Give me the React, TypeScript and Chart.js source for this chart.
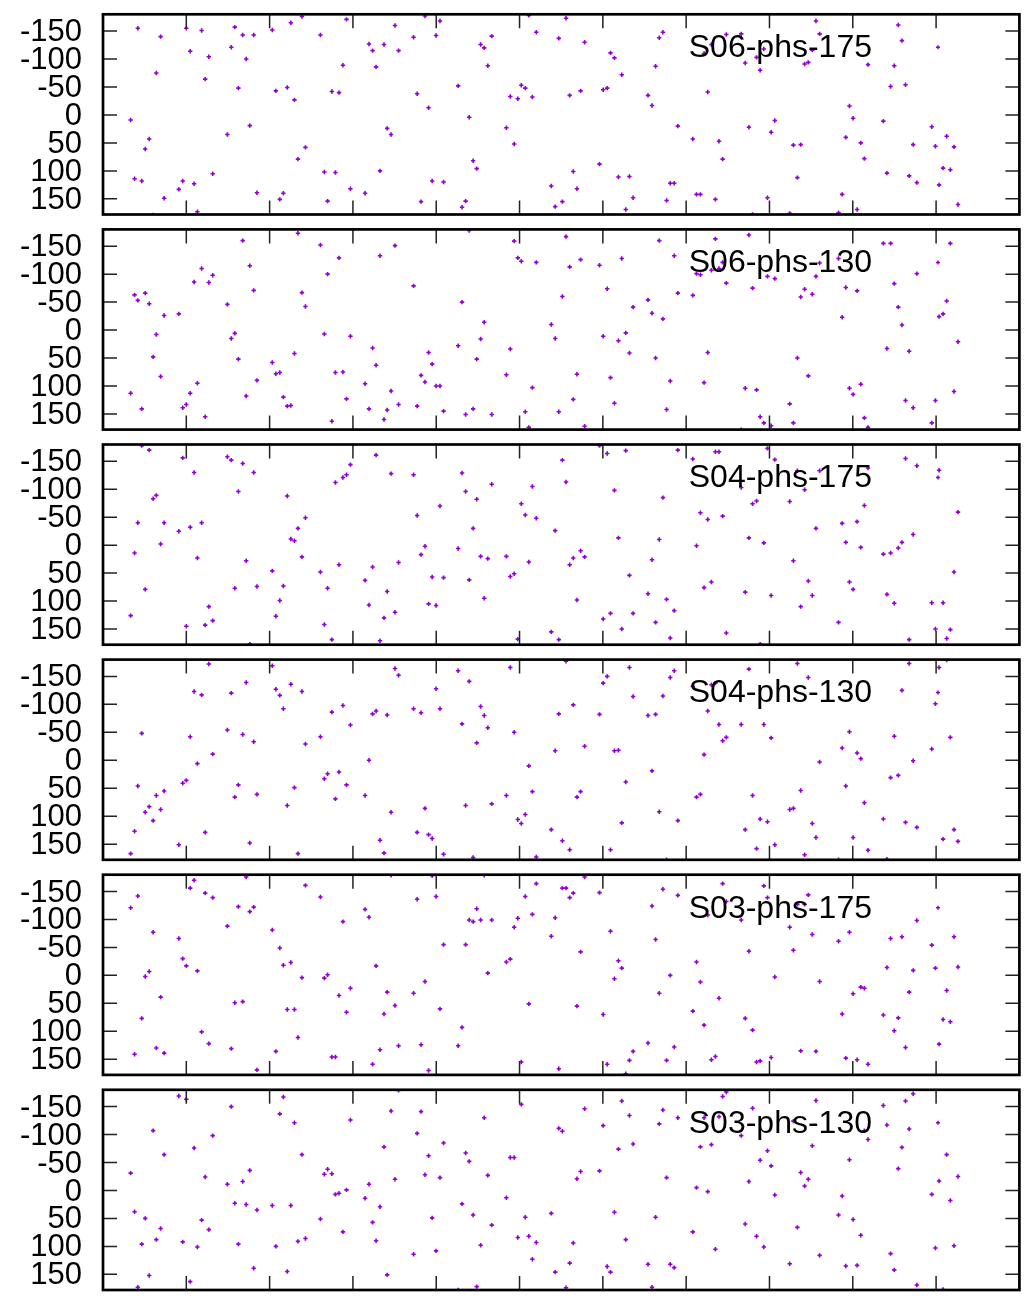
import React, { useEffect, useRef } from "react";
import { Chart, registerables } from "chart.js";

Chart.register(...registerables);

// shared sample times (x values)
const times: number[] = [
  3.32, 3.79, 4.18, 4.65, 5.07, 5.55, 6.02, 6.40, 6.92, 7.34,
  9.10, 9.57, 10.00, 10.47, 10.94, 11.33, 11.84, 12.27, 12.70, 13.17,
  14.93, 15.40, 15.82, 16.25, 16.77, 17.19, 17.62, 18.09, 18.48,
  20.32, 20.75, 21.22, 21.65, 22.12, 22.55, 22.98, 23.40, 23.88, 24.30,
  26.10, 26.57, 26.96, 27.47, 27.90, 28.33, 28.80, 29.23, 29.70,
  31.46, 31.93, 32.36, 32.78, 33.25, 33.73, 34.11, 34.58, 35.05, 35.48,
  37.28, 37.71, 38.18, 38.65, 39.08, 39.51, 39.98, 40.45, 40.88,
  42.63, 43.10, 43.53, 43.96, 44.43, 44.86, 45.33, 45.76, 46.19, 46.66,
  48.42, 48.89, 49.36, 49.79, 50.21, 50.69, 51.11, 51.54, 52.01,
  53.81, 54.28, 54.71,
  55.14, 55.58, 56.02, 56.45, 56.89, 57.33, 57.81,
  59.60, 60.04, 60.52, 60.92, 61.39, 61.87, 62.27, 62.75, 63.19, 63.63,
  65.42, 65.90, 66.33, 66.77, 67.21, 67.65, 68.09, 68.57, 69.00,
  70.80, 71.24, 71.71, 72.15, 72.59, 73.03, 73.51, 73.94, 74.38, 74.82,
  76.61, 77.09, 77.53, 77.97, 78.45, 78.88, 79.32, 79.76, 80.20, 80.64,
  82.43, 82.87, 83.35, 83.75, 84.22, 84.66, 85.14, 85.58, 86.02,
  88.29, 88.73, 89.16, 89.60, 90.04, 90.52, 90.96, 91.39, 91.83,
  93.67, 94.10, 94.54, 94.98, 95.46, 95.90, 96.33, 96.77, 97.25, 97.69,
  99.48, 99.92, 100.36, 100.84, 101.27, 101.71, 102.15, 102.63,
];

const s06phs175: (number | null)[] = [
  9, 114, -155, 118, 61, 43, 179, -75, -140, 149,
  133, 118, -155, -114, 123, 173, -151, -64, -104, 105,
  35, -121, -157, -48, -143, -100, 19, -143, 139,
  -152, -43, 151, 140, -49, -165, -27, 79, -176, 58,
  -143, 102, 154, -42, 103, -40, -89, -171, 132,
  140, -127, -115, -86, 100, -126, 24, 35, -160, -115,
  -139, -38, 155, -177, -13, 118, -142, -168, 120,
  -52, 165, 154, 4, 82, 96, -126, -120, -88, -141,
  23, -33, 52, -29, -53, -48, -178, -32, -148,
  127, 164, -137,
  155, -173, -35, 101, 132, -43, -130,
  88, -45, -48, -111, -102, 111, -72, 169, 110, 148,
  -35, -17, -87, -138, -148, 153, 122, 122, 20,
  43, 142, 142, -110, -41, -126, 151, 47, 79, -144,
  -145, -93, 22, 178, -103, -80, -118, 148, 31, 10,
  176, 54, 112, 53, -91, -94, -116, -168, -145,
  175, 142, 40, -16, 6, 169, 50, 78, -90,
  11, 104, -51, -88, -161, -133, -54, 109, 53, 121,
  21, 56, 125, 95, 38, 98, 57, 160,
];

const s06phs130: (number | null)[] = [
  113, -63, -53, 141, -66, -47, 48, 8, 83, -26,
  -29, 139, 133, 113, -86, 95, -110, 155, -85, -98,
  -46, 15, 6, 52, -160, 118, -115, -71, 90,
  58, 78, 76, 120, 136, 135, 42, -173, -67, -42,
  -152, 7, -100, 163, 76, -129, 75, 123, 11,
  96, 141, 32, 63, -133, 160, 143, 109, -151, 133,
  -79, 136, 81, 93, 40, 61, 100, 100, 145,
  28, -50, 151, -178, 141, 52, 16, -14, null, 151,
  80, 34, -159, -129, -123, 146, 174, 103, -121,
  -10, 15, 146,
  -60, -167, -113, 124, 79, -126, 172,
  -116, 11, -74, 85, 131, 19, -128, 5, 41, -41,
  -54, -30, 50, -160, -20, 142, 91, -133, -66,
  -62, -101, -99, 94, 40, -107, -163, -110, -121, -84,
  178, 104, -170, -75, 107, 155, 166, -96, 171, -92,
  132, 166, 50, -59, -73, 82, -64, -96, -120,
  -128, -23, -76, 104, 115, -70, 97, 157, 174,
  -155, 33, -155, -83, -41, -9, 126, 38, 139, -101,
  166, 126, -24, -29, -52, -155, 110, 21,
];

const s04phs175: (number | null)[] = [
  126, 14, -40, -178, 79, -170, -83, -89, -2, -40,
  -25, -156, 145, -32, -130, 23, -40, 143, 110, 135,
  -158, -152, 77, -96, -146, 28, 177, -130, 74,
  46, 127, 99, 73, -88, -11, -8, -30, 21, -49,
  48, 142, 77, 169, -112, 35, -121, -126, -144,
  63, 107, 39, -161, 171, 130, 83, -128, 120, 31,
  -126, -53, 17, 2, 105, 57, 108, -70, 58,
  6, -129, -96, 62, -30, -82, 20, 95, 24, -109,
  20, 56, 51, 168, -74, -54, 30, -105, -48,
  155, -26, 169,
  -152, -113, 35, 23, 98, 10, 21,
  -178, 132, -164, 122, -98, -13, 150, -169, 54, 122,
  87, 26, 138, -10, -85, 97, 166, 117, -170,
  -154, 1, -58, 76, -46, 66, -167, -167, -52, 157,
  -103, 84, -13, -74, -79, 177, -4, -173, 90, -153,
  -78, 28, -133, 110, -99, 64, 90, -30, -133,
  138, -39, -5, 66, 79, -42, 4, -71, -138,
  16, 88, 14, 104, 5, -5, -155, 169, -19, -142,
  103, 150, -134, 103, 167, 151, 48, -59,
];

const s04phs130: (number | null)[] = [
  167, 127, 46, -48, 93, 83, 108, 63, 88, 55,
  151, 41, 36, -42, -123, 6, -117, 129, -172, -11,
  -54, -120, 66, 44, -46, -139, 148, -33, 61,
  -169, -127, -116, -92, 81, -136, 49, 167, -123, -29,
  -42, 33, 24, -86, 69, 21, -98, 44, -63,
  63, 0, -83, -88, 143, 166, -81, 93, -164, -152,
  -92, 129, -85, 86, 133, 140, -128, -92, 168,
  -160, -65, 81, -141, 174, -31, -96, -80, -58, 78,
  63, -166, -50, 106, 113, 97, 10, 56, 173,
  124, -17, -83,
  144, -177, 160, -99, 66, 56, -25,
  -82, -138, -150, 160, -17, -18, 112, 39, -166, -114,
  -80, 19, -82, 92, -115, 178, -148, -160, 108,
  -132, 66, 61, -10, -88, -135, -138, -64, -35, -41,
  -64, 124, -163, 63, 158, 105, -64, 110, -40, 151,
  88, 86, -173, 54, 169, -148, 113, 138, 3,
  178, -22, 46, -51, 138, -13, -3, 76, 161,
  105, 177, 31, -43, 27, -125, 111, -173, 1, 120,
  -20, -101, -166, 141, -179, -41, 124, 145,
];

const s03phs175: (number | null)[] = [
  -121, 141, -142, 77, 2, -7, -77, 130, 39, 139,
  -66, -30, -17, -156, -170, -8, 101, -147, 122, -139,
  -88, 131, 49, -123, 47, -176, -114, -122, 169,
  -81, 136, -49, -18, 61, -23, 61, 111, 4, -161,
  -140, 5, -1, 146, 146, 36, -96, 66, 23,
  -118, -104, 159, -17, 133, 69, 30, -179, 54, 126,
  32, -136, 124, 11, 170, -178, -141, 60, -55,
  126, 93, -55, -99, -96, -119, -99, -179, -4, -99,
  -24, -29, -86, -102, 155, -141, 51, -109, -164,
  -70, -103, 167,
  -156, -156, -139, -147, 55, -42, -176,
  -148, 70, 159, -79, 6, -26, -13, 176, 152, 136,
  121, -124, -64, 32, -154, 152, 0, 128, -143,
  64, -24, 12, 89, -108, 151, 145, 41, -164, -132,
  -99, 77, -43, 98, 155, 153, -160, -139, 147, 3,
  -86, -45, -127, 135, -127, -144, -73, 136, 11,
  -61, 69, 148, -77, 33, 151, 21, 23, 159,
  71, -14, -66, 99, 76, -69, 129, 30, -9, -98,
  -54, -13, 123, 79, 27, 83, -69, -15,
];

const s03phs130: (number | null)[] = [
  -31, 38, 173, 96, 50, 152, -107, 88, 68, -64,
  -169, 92, -163, 163, -76, 101, 53, -24, 70, -98,
  -11, -150, 23, 96, -16, 25, -36, 139, 35,
  27, 100, -137, -167, 145, 27, -121, 91, -64, 86,
  51, -29, -38, -30, 7, 5, 74, -1, -126,
  14, -11, 57, 90, 29, -78, 151, -142, -20, -179,
  114, -102, -141, -28, -62, 49, 108, -23, -85,
  178, 24, -67, -52, 44, 172, 98, -130, -27, 62,
  13, -59, -59, 84, -154, 48, 82, 123, 93,
  41, 146, -111,
  -106, 174, 130, 94, -21, -34, -146,
  -35, -116, 136, 146, 39, -74, -160, 88, -134, -83,
  132, 173, 48, -119, -144, -23, 132, 138, -130,
  74, -5, -78, -130, 2, -82, 105, -132, -168, -176,
  -98, 60, -16, -147, 82, -54, 101, -71, -44, 8,
  131, -124, 66, -32, -8, -20, -80, -161, 116,
  44, 10, 135, -55, 52, 134, 80, -107, -91,
  -152, -117, 113, 142, -39, -77, -160, -110, -173, 169,
  7, 103, -17, 177, -64, 18, 99, -25,
];

const panelNames: string[] = [
  "S06-phs-175",
  "S06-phs-130",
  "S04-phs-175",
  "S04-phs-130",
  "S03-phs-175",
  "S03-phs-130",
];
const panelSeries: (number | null)[][] = [
  s06phs175, s06phs130, s04phs175, s04phs130, s03phs175, s03phs130,
];

const yTicks: number[] = [-150, -100, -50, 0, 50, 100, 150];
const xTicks: number[] = [10, 20, 30, 40, 50, 60, 70, 80, 90, 100];

const COLOR = "#9400D3";
const FONT = "'Liberation Sans', Arial, Helvetica, sans-serif";
const CANVAS_W = 1025;
const CANVAS_H = 225;
const PERIOD = 215;

const framePlugin = {
  id: "gnuplotFrame",
  afterDatasetsDraw(chart: any) {
    const { ctx, chartArea, scales } = chart;
    const { left, right, top, bottom } = chartArea;
    const name: string = chart.options.plugins.keyLabel.text;
    ctx.save();
    // inward tick marks
    ctx.strokeStyle = "#222";
    ctx.lineWidth = 1.5;
    const tl = 14;
    ctx.beginPath();
    for (const v of yTicks) {
      const y = scales.y.getPixelForValue(v);
      ctx.moveTo(left, y);
      ctx.lineTo(left + tl, y);
      ctx.moveTo(right, y);
      ctx.lineTo(right - tl, y);
    }
    for (const v of xTicks) {
      const x = scales.x.getPixelForValue(v);
      ctx.moveTo(x, top);
      ctx.lineTo(x, top + tl);
      ctx.moveTo(x, bottom);
      ctx.lineTo(x, bottom - tl);
    }
    ctx.stroke();
    // border
    ctx.strokeStyle = "#000";
    ctx.lineWidth = 2.7;
    ctx.strokeRect(left, top, right - left, bottom - top);
    // key
    const ky = top + 34;
    ctx.fillStyle = "#000";
    ctx.font = `32px ${FONT}`;
    ctx.textAlign = "right";
    ctx.textBaseline = "middle";
    ctx.fillText(name, 872, ky);
    // key sample point
    ctx.strokeStyle = COLOR;
    ctx.lineWidth = 1.5;
    ctx.beginPath();
    ctx.moveTo(938 - 2, ky - 1);
    ctx.lineTo(938 + 2, ky - 1);
    ctx.moveTo(938, ky - 3);
    ctx.lineTo(938, ky + 1);
    ctx.stroke();
    ctx.restore();
  },
};

function Panel({ index }: { index: number }) {
  const ref = useRef<HTMLCanvasElement | null>(null);
  useEffect(() => {
    const canvas = ref.current;
    if (!canvas) return;
    const ys = panelSeries[index];
    const pts: { x: number; y: number }[] = [];
    times.forEach((t, i) => {
      const v = ys[i];
      if (v !== null && v !== undefined) pts.push({ x: t, y: v });
    });
    const extra = 0.1 * index;
    const areaTop = 14.3 + extra;
    const areaBottom = 214.5 + extra;
    const chart = new Chart(canvas, {
      type: "scatter",
      data: {
        datasets: [
          {
            label: panelNames[index],
            data: pts,
            pointStyle: "cross",
            pointRadius: 2.2,
            pointBorderWidth: 1.6,
            borderColor: COLOR,
            backgroundColor: COLOR,
            showLine: false,
          },
        ],
      },
      options: {
        animation: false,
        responsive: false,
        devicePixelRatio: 1,
        events: [],
        layout: {
          padding: { top: areaTop, bottom: CANVAS_H - areaBottom, left: 0, right: 1.7 },
        },
        plugins: {
          legend: { display: false },
          tooltip: { enabled: false },
          keyLabel: { text: panelNames[index] },
        } as any,
        scales: {
          x: { type: "linear", min: 0, max: 110, display: false },
          y: {
            type: "linear",
            min: -180,
            max: 178,
            reverse: true,
            afterBuildTicks: (s: any) => {
              s.ticks = yTicks.map((v) => ({ value: v }));
            },
            afterFit: (s: any) => {
              s.width = 103;
              s.paddingTop = 0;
              s.paddingBottom = 0;
            },
            grid: { display: false, drawTicks: false },
            border: { display: false },
            ticks: {
              color: "#000",
              padding: 21,
              labelOffset: 1.5,
              autoSkip: false,
              font: { family: FONT, size: 31 },
              callback: (v: any) => String(v),
            },
          },
        },
      } as any,
      plugins: [framePlugin],
    });
    return () => chart.destroy();
  }, [index]);
  return (
    <canvas
      ref={ref}
      width={CANVAS_W}
      height={CANVAS_H}
      style={{ position: "absolute", left: 0, top: PERIOD * index, width: CANVAS_W, height: CANVAS_H }}
    />
  );
}

export default function App() {
  return (
    <div style={{ position: "absolute", left: 0, top: 0, width: 1025, height: 1299, background: "#fff" }}>
      {panelNames.map((_, i) => (
        <Panel key={i} index={i} />
      ))}
    </div>
  );
}
